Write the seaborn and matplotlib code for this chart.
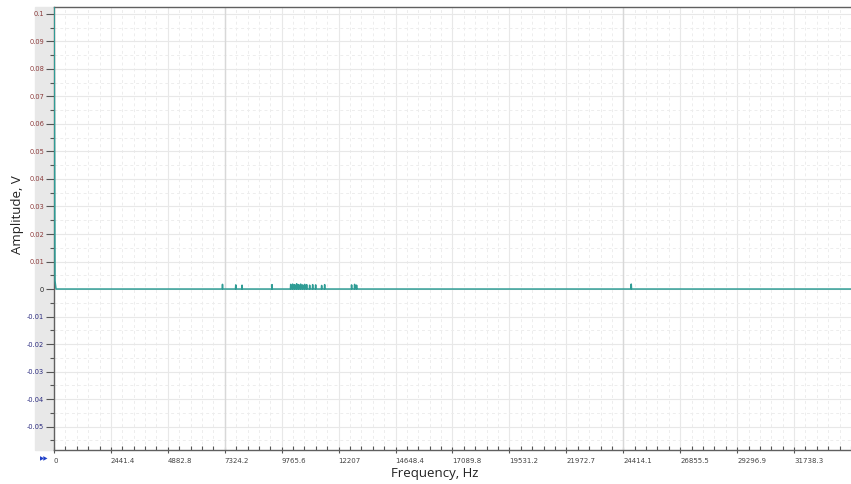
import numpy as np
import pandas as pd
import matplotlib
matplotlib.use("Agg")
import matplotlib.pyplot as plt
import seaborn as sns
from matplotlib.ticker import MultipleLocator, FixedLocator

# spectrum values
low_freq = [0, 43, 86]
low_amp = [0.12, 0.003, 0.0]
spike_freq = [7226, 7795, 8065, 9350, 10151, 10236, 10322, 10408, 10493, 10579,
              10665, 10750, 10836, 10964, 11093, 11221, 11478, 11607,
              12763, 12892, 12977, 24756]
spike_amp = [0.0017, 0.0015, 0.0014, 0.0016, 0.0017, 0.0018, 0.0016, 0.0019, 0.0016, 0.0018,
             0.0015, 0.0017, 0.0016, 0.0014, 0.0016, 0.0015, 0.0013, 0.0016,
             0.0015, 0.0017, 0.0014, 0.0018]
end_freq = 34180
x_ticks = [0, 2441.4, 4882.8, 7324.2, 9765.6, 12207, 14648.4, 17089.8,
           19531.2, 21972.7, 24414.1, 26855.5, 29296.9, 31738.3]
x_tick_labels = ["0", "2441.4", "4882.8", "7324.2", "9765.6", "12207", "14648.4", "17089.8",
                 "19531.2", "21972.7", "24414.1", "26855.5", "29296.9", "31738.3"]
y_ticks = [0.1, 0.09, 0.08, 0.07, 0.06, 0.05, 0.04, 0.03, 0.02, 0.01, 0,
           -0.01, -0.02, -0.03, -0.04, -0.05]

# build the line: each spike is a narrow peak on the zero baseline
fx = list(low_freq)
fy = list(low_amp)
for f, a in zip(spike_freq, spike_amp):
    fx += [f - 12, f, f + 12]
    fy += [0, a, 0]
fx.append(end_freq)
fy.append(0)
df = pd.DataFrame({"freq": fx, "amp": fy})

sns.set_style("white")
plt.rcParams["font.family"] = ["Open Sans", "DejaVu Sans"]

fig = plt.figure(figsize=(8.51, 4.84), dpi=100)
ax = fig.add_axes([54 / 851, 1 - 450 / 484, 1 - 54 / 851, (450 - 7) / 484])

# grey strip behind the y tick labels
strip = plt.Rectangle((35 / 851, 1 - 450 / 484), 18 / 851, 443 / 484,
                      transform=fig.transFigure, color="#e8e8e8", zorder=-10)
fig.add_artist(strip)

sns.lineplot(data=df, x="freq", y="amp", ax=ax, color="#2f9c95", linewidth=1.1,
             sort=False, zorder=5)

ax.set_xlim(0, end_freq)
ax.set_ylim(-0.0585, 0.1025)

ax.xaxis.set_major_locator(FixedLocator(x_ticks))
ax.xaxis.set_minor_locator(MultipleLocator(2441.4 / 5))
ax.yaxis.set_major_locator(FixedLocator(y_ticks))
ax.yaxis.set_minor_locator(MultipleLocator(0.005))

ax.set_xticklabels(x_tick_labels, fontsize=5, color="#444444", ha="left",
                   family="DejaVu Sans")
ylabels = []
for v in y_ticks:
    ylabels.append("0" if v == 0 else f"{v:g}")
ax.set_yticklabels(ylabels, fontsize=4.8, family="DejaVu Sans")
for lab, v in zip(ax.get_yticklabels(), y_ticks):
    lab.set_color("#8b3a3a" if v > 0 else ("#222222" if v == 0 else "#2b2b80"))

ax.tick_params(axis="y", which="major", direction="out", length=6, width=0.8,
               color="#555555", pad=1)
ax.tick_params(axis="y", which="minor", direction="out", length=3, width=0.8,
               color="#555555")
ax.tick_params(axis="x", which="major", direction="inout", length=5, width=0.8,
               color="#555555", pad=3)
ax.tick_params(axis="x", which="minor", direction="in", length=3, width=0.8,
               color="#555555")
ax.tick_params(which="both", left=True, bottom=True)

ax.grid(which="major", color="#e8e8e8", linewidth=0.8, linestyle="-")
ax.grid(which="minor", color="#ededed", linewidth=0.7, linestyle=(0, (3, 3)))
ax.set_axisbelow(True)
for xv in [7324.2, 24414.1]:
    ax.axvline(xv, color="#d8d8d8", linewidth=1.0, zorder=1)

for side in ["left", "bottom", "top"]:
    ax.spines[side].set_color("#606060")
    ax.spines[side].set_linewidth(1.0)
ax.spines["right"].set_visible(False)

ax.set_xlabel("")
ax.set_ylabel("")
fig.text(18 / 851, 1 - 215 / 484, "Amplitude, V", rotation=90, ha="center", va="center",
         fontsize=9.5, color="#222222")
fig.text(435 / 851, 1 - 473 / 484, "Frequency, Hz", ha="center", va="center",
         fontsize=9.5, color="#222222")
fig.text(44 / 851, 1 - 459 / 484, "\u25b6\u25b6", ha="center", va="center",
         fontsize=4, color="#2040c8", family="DejaVu Sans")

fig.savefig("out.png", dpi=100, facecolor="white")
